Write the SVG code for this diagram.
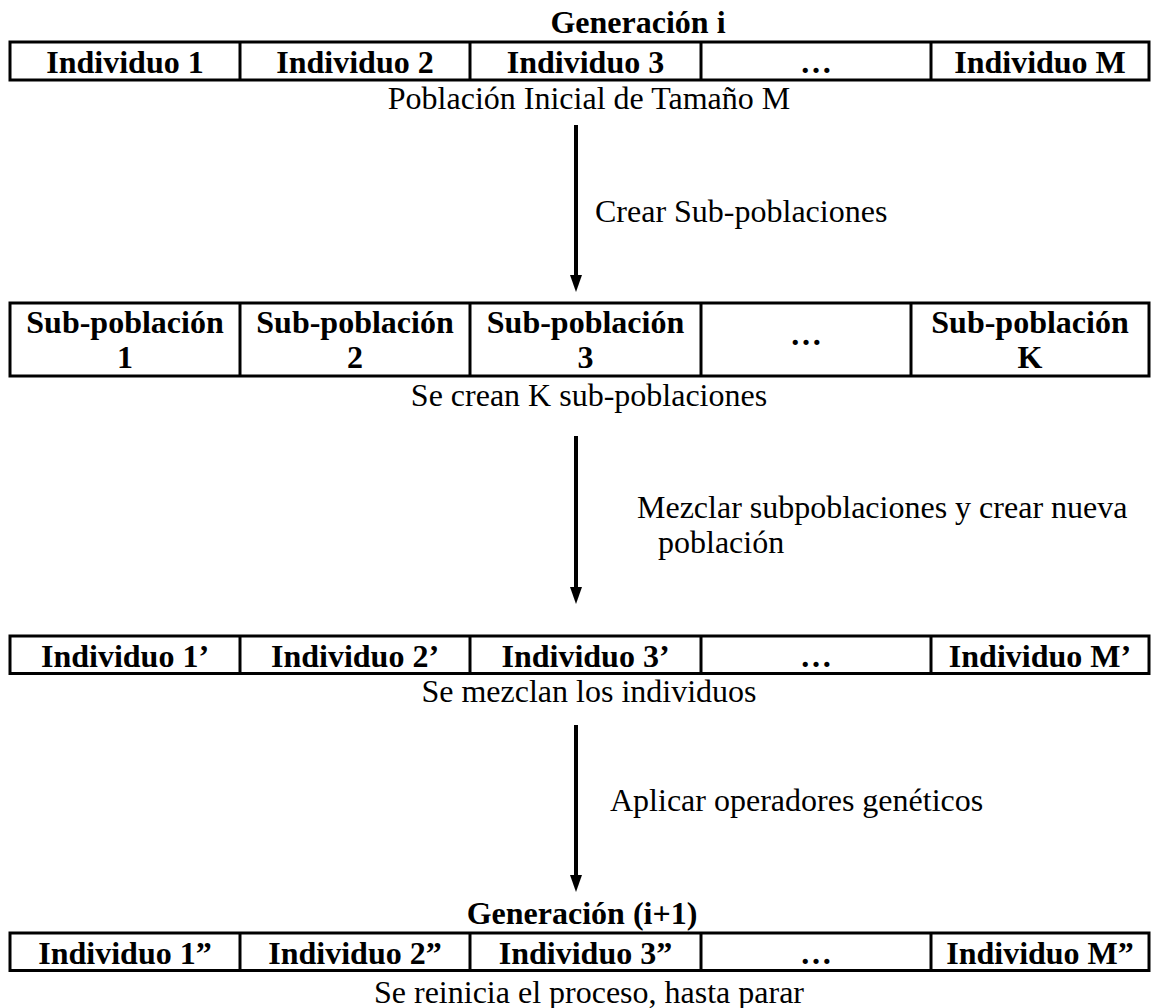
<svg xmlns="http://www.w3.org/2000/svg" width="1151" height="1008" viewBox="0 0 1151 1008">
<style>
.cell{fill:#fff;stroke:#000;stroke-width:3}
.div{stroke:#000;stroke-width:3}
.b{font-family:"Liberation Serif","Times New Roman",serif;font-weight:bold;font-size:32px;fill:#000;text-anchor:middle}
.t{font-family:"Liberation Serif","Times New Roman",serif;font-size:32px;fill:#000}
.c{text-anchor:middle}
.arr{stroke:#000;stroke-width:4;fill:none}
</style>
<defs>
<marker id="ah" markerUnits="userSpaceOnUse" markerWidth="18" markerHeight="14" refX="0" refY="7" orient="auto">
<path d="M0,1 L17,7 L0,13 z" fill="#000"/>
</marker>
</defs>
<rect width="1151" height="1008" fill="#fff"/>

<g id="gen-i">
<text class="b" x="638" y="33">Generación i</text>
<rect class="cell" x="10" y="42" width="1139" height="38"/>
<line class="div" x1="240" y1="42" x2="240" y2="80"/>
<line class="div" x1="470" y1="42" x2="470" y2="80"/>
<line class="div" x1="701" y1="42" x2="701" y2="80"/>
<line class="div" x1="931" y1="42" x2="931" y2="80"/>
<text class="b" x="125" y="72.5">Individuo 1</text>
<text class="b" x="355" y="72.5">Individuo 2</text>
<text class="b" x="585.5" y="72.5">Individuo 3</text>
<text class="b" x="816" y="72.5">…</text>
<text class="b" x="1040" y="72.5">Individuo M</text>
<text class="t c" x="589" y="109">Población Inicial de Tamaño M</text>
</g>

<g id="subpob">
<rect class="cell" x="10" y="303" width="1139" height="73"/>
<line class="div" x1="240" y1="303" x2="240" y2="376"/>
<line class="div" x1="470" y1="303" x2="470" y2="376"/>
<line class="div" x1="701" y1="303" x2="701" y2="376"/>
<line class="div" x1="911" y1="303" x2="911" y2="376"/>
<text class="b" x="125" y="333">Sub-población</text>
<text class="b" x="125" y="367.5">1</text>
<text class="b" x="355" y="333">Sub-población</text>
<text class="b" x="355" y="367.5">2</text>
<text class="b" x="585.5" y="333">Sub-población</text>
<text class="b" x="585.5" y="367.5">3</text>
<text class="b" x="806" y="345">…</text>
<text class="b" x="1030" y="333">Sub-población</text>
<text class="b" x="1030" y="367.5">K</text>
<text class="t c" x="589" y="406">Se crean K sub-poblaciones</text>
</g>

<g id="mezcla">
<rect class="cell" x="10" y="636" width="1139" height="37.5"/>
<line class="div" x1="240" y1="636" x2="240" y2="673.5"/>
<line class="div" x1="470" y1="636" x2="470" y2="673.5"/>
<line class="div" x1="701" y1="636" x2="701" y2="673.5"/>
<line class="div" x1="931" y1="636" x2="931" y2="673.5"/>
<text class="b" x="125" y="666.5">Individuo 1’</text>
<text class="b" x="355" y="666.5">Individuo 2’</text>
<text class="b" x="585.5" y="666.5">Individuo 3’</text>
<text class="b" x="816" y="666.5">…</text>
<text class="b" x="1040" y="666.5">Individuo M’</text>
<text class="t c" x="589" y="702">Se mezclan los individuos</text>
</g>

<g id="gen-i1">
<text class="b" x="582" y="923.5">Generación (i+1)</text>
<rect class="cell" x="10" y="933" width="1139" height="37.5"/>
<line class="div" x1="240" y1="933" x2="240" y2="970.5"/>
<line class="div" x1="470" y1="933" x2="470" y2="970.5"/>
<line class="div" x1="701" y1="933" x2="701" y2="970.5"/>
<line class="div" x1="931" y1="933" x2="931" y2="970.5"/>
<text class="b" x="125" y="963.5">Individuo 1”</text>
<text class="b" x="355" y="963.5">Individuo 2”</text>
<text class="b" x="585.5" y="963.5">Individuo 3”</text>
<text class="b" x="816" y="963.5">…</text>
<text class="b" x="1040" y="963.5">Individuo M”</text>
<text class="t c" x="589" y="1002.5">Se reinicia el proceso, hasta parar</text>
</g>

<g id="connectors">
<line class="arr" x1="576" y1="125" x2="576" y2="275" marker-end="url(#ah)"/>
<text class="t" x="595" y="221.5">Crear Sub-poblaciones</text>
<line class="arr" x1="576" y1="436" x2="576" y2="587" marker-end="url(#ah)"/>
<text class="t" x="637" y="517.5">Mezclar subpoblaciones y crear nueva</text>
<text class="t" x="658" y="553">población</text>
<line class="arr" x1="576" y1="725" x2="576" y2="875" marker-end="url(#ah)"/>
<text class="t" x="610" y="811">Aplicar operadores genéticos</text>
</g>
</svg>
